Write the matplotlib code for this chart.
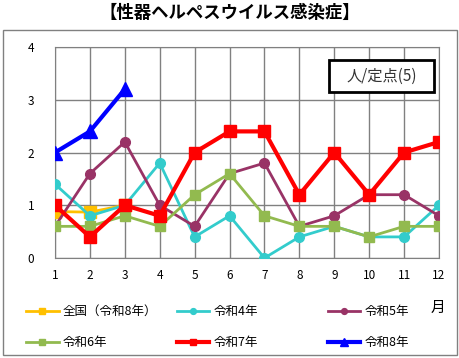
import matplotlib
matplotlib.use("Agg")
import matplotlib.pyplot as plt
from matplotlib.patches import Rectangle

plt.rcParams['font.family'] = ['Noto Sans CJK JP', 'DejaVu Sans']

months = list(range(1, 13))
zenkoku_r8 = [0.88, 0.87, 1.0]
r4 = [1.4, 0.8, 1.0, 1.8, 0.4, 0.8, 0.0, 0.4, 0.6, 0.4, 0.4, 1.0]
r5 = [0.6, 1.6, 2.2, 1.0, 0.6, 1.6, 1.8, 0.6, 0.8, 1.2, 1.2, 0.8]
r6 = [0.6, 0.6, 0.8, 0.6, 1.2, 1.6, 0.8, 0.6, 0.6, 0.4, 0.6, 0.6]
r7 = [1.0, 0.4, 1.0, 0.8, 2.0, 2.4, 2.4, 1.2, 2.0, 1.2, 2.0, 2.2]
r8 = [2.0, 2.4, 3.2]

fig = plt.figure(figsize=(4.6, 3.58), dpi=100)
ax = fig.add_axes([55/460, 100/358, 384/460, 211/358])

l0, = ax.plot(months[:3], zenkoku_r8, color='#FFC000', lw=2, marker='s', ms=8, label='全国（令和8年）', zorder=3)
l1, = ax.plot(months, r4, color='#33CCCC', lw=2, marker='o', ms=7, label='令和4年', zorder=4)
l2, = ax.plot(months, r5, color='#993366', lw=2, marker='o', ms=7, label='令和5年', zorder=4)
l3, = ax.plot(months, r6, color='#92BA4F', lw=2, marker='s', ms=7, label='令和6年', zorder=5)
l4, = ax.plot(months, r7, color='#FF0000', lw=3, marker='s', ms=8, label='令和7年', zorder=6)
l5, = ax.plot(months[:3], r8, color='#0000FF', lw=3, marker='^', ms=10, label='令和8年', zorder=7)

ax.set_xlim(1, 12)
ax.set_ylim(0, 4)
ax.set_xticks(months)
ax.set_yticks([0, 1, 2, 3, 4])
ax.grid(True, color='#808080', lw=1)
ax.set_axisbelow(True)
for s in ax.spines.values():
    s.set_color('#808080')
ax.tick_params(length=0, labelsize=8.5, colors='black', pad=8)
ax.tick_params(axis='y', pad=15)

fig.text(0.5, 1 - 13/358, '【性器ヘルペスウイルス感染症】', ha='center', va='center',
         fontsize=12.5, fontweight='bold')

# unit box
fig.patches.append(Rectangle((329/460, 1 - 92/358), 105/460, 32/358, transform=fig.transFigure,
                             fc='white', ec='black', lw=2, zorder=10))
fig.text(382/460, 1 - 76/358, '人/定点(5)', ha='center', va='center', fontsize=11,
         color='#333333', zorder=11)
fig.text(438/460, 1 - 308/358, '月', ha='center', va='center', fontsize=10.5)

fig.patches.append(Rectangle((3/460, 3/358), 454/460, 325/358, transform=fig.transFigure,
                             fill=False, ec='#808080', lw=1))

cols = [(l0, l3, 16), (l1, l4, 167), (l2, l5, 318)]
for a, b, x in cols:
    lg = fig.legend(handles=[a, b], loc='upper left', bbox_to_anchor=(x/460, 1 - 295/358),
                    frameon=False, fontsize=9, handlelength=2.6, handletextpad=0.3,
                    labelspacing=1.45, markerscale=0.6, borderpad=0.3)

fig.savefig('out.png', dpi=100)
